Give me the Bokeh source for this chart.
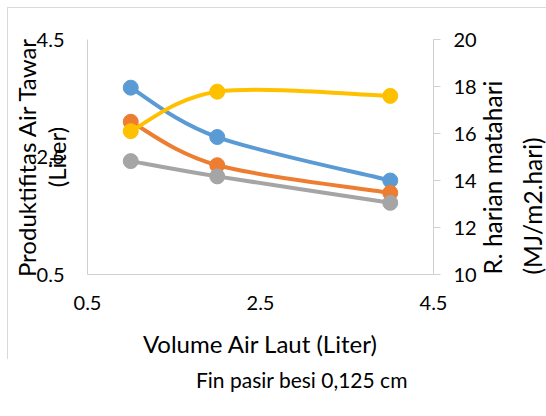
from math import pi
from bokeh.plotting import figure
from bokeh.models import (Range1d, LinearAxis, FixedTicker, Legend,
                          LegendItem, ColumnDataSource)
from bokeh.embed import file_html
from bokeh.resources import INLINE

# ---------------- data ----------------
volume = [1, 2, 4]                       # Volume Air Laut (Liter)
fin_0125 = [3.68, 2.84, 2.10]            # blue
fin_orange = [3.10, 2.36, 1.89]          # orange
fin_gray = [2.43, 2.17, 1.72]            # gray
radiasi = [16.1, 17.78, 17.6]            # yellow, right axis (MJ/m2.hari)
x_ticks = [0.5, 2.5, 4.5]
left_ticks = [0.5, 2.5, 4.5]
right_ticks = [10, 12, 14, 16, 18, 20]
legend_label = "Fin pasir besi 0,125 cm"

FONT = "Lato"
GREY = "#D0D0D0"
TXT = "#000000"
BLUE, ORANGE, GRAY, YELLOW = "#5B9BD5", "#ED7D31", "#A5A5A5", "#FFC000"


def smooth(xs, ys):
    """Catmull-Rom style bezier segments through the given points."""
    n = len(xs)
    d = dict(x0=[], y0=[], x1=[], y1=[], cx0=[], cy0=[], cx1=[], cy1=[])
    for i in range(n - 1):
        im1 = max(i - 1, 0)
        ip2 = min(i + 2, n - 1)
        d["x0"].append(xs[i]); d["y0"].append(ys[i])
        d["x1"].append(xs[i + 1]); d["y1"].append(ys[i + 1])
        d["cx0"].append(xs[i] + (xs[i + 1] - xs[im1]) / 6)
        d["cy0"].append(ys[i] + (ys[i + 1] - ys[im1]) / 6)
        d["cx1"].append(xs[i + 1] - (xs[ip2] - xs[i]) / 6)
        d["cy1"].append(ys[i + 1] - (ys[ip2] - ys[i]) / 6)
    return ColumnDataSource(d)


p = figure(frame_width=346, frame_height=235, height=390,
           min_border_left=79, min_border_right=113,
           min_border_top=31, min_border_bottom=0,
           x_range=Range1d(0.5, 4.5), y_range=Range1d(0.5, 4.5),
           output_backend="svg", toolbar_location=None)
p.styles = {"margin-left": "8px", "margin-top": "8px",
            "box-shadow": "-1px -1px 0 0 #D9D9D9"}
p.extra_y_ranges = {"rad": Range1d(10, 20)}
p.outline_line_color = None
p.xgrid.visible = False
p.ygrid.visible = False

# axes
xa = p.xaxis[0]
xa.ticker = FixedTicker(ticks=x_ticks)
ya = p.yaxis[0]
ya.ticker = FixedTicker(ticks=left_ticks)
ra = LinearAxis(y_range_name="rad", ticker=FixedTicker(ticks=right_ticks))
p.add_layout(ra, "right")

for ax in (xa, ya, ra):
    ax.axis_line_color = GREY
    ax.axis_line_width = 1
    ax.minor_tick_line_color = None
    ax.major_label_text_font = FONT
    ax.major_label_text_font_size = "20px"
    ax.major_label_text_color = TXT
    ax.axis_label_text_font = FONT
    ax.axis_label_text_font_size = "24px"
    ax.axis_label_text_font_style = "normal"
    ax.axis_label_text_color = TXT
for ax in (xa, ya):
    ax.major_tick_line_color = None
    ax.major_tick_out = 0
    ax.major_tick_in = 0
xa.major_label_standoff = 21
ya.major_label_standoff = 23
ra.major_tick_line_color = GREY
ra.major_tick_out = 7
ra.major_tick_in = 0
ra.major_label_standoff = 13

xa.axis_label = "Volume Air Laut (Liter)"
xa.axis_label_standoff = 16
ya.axis_label = "Produktifitas Air Tawar\n(Liter)"
ya.axis_label_standoff = -37
ya.axis_label_text_line_height = 1.02
ra.axis_label = "R. harian matahari\n(MJ/m2.hari)"
ra.axis_label_orientation = pi / 2
ra.axis_label_standoff = 33
ra.axis_label_text_line_height = 1.37
ra.axis_label_align = "start"
ra.axis_label_text_font_size = "24.5px"

# series
series = [(fin_0125, BLUE, "default"), (fin_orange, ORANGE, "default"),
          (fin_gray, GRAY, "default"), (radiasi, YELLOW, "rad")]
for ys, col, rng in series:
    src = smooth(volume, ys)
    p.bezier(x0="x0", y0="y0", x1="x1", y1="y1", cx0="cx0", cy0="cy0",
             cx1="cx1", cy1="cy1", source=src, line_color=col, line_width=4,
             y_range_name=rng)
    p.scatter(volume, ys, size=15, marker="circle", fill_color=col,
              line_color=col, y_range_name=rng)

# ---- legend: a small transparent figure placed under the x-axis title ----
leg = figure(width=300, height=37, min_border=0,
             x_range=Range1d(0, 1), y_range=Range1d(0, 1),
             x_axis_location=None, y_axis_location=None,
             output_backend="svg", toolbar_location=None)
leg.styles = {"position": "absolute", "left": "140px", "top": "361px"}
leg.outline_line_color = None
leg.xgrid.visible = False
leg.ygrid.visible = False
leg.background_fill_color = None
leg.border_fill_color = None
leg_line = leg.line([], [], line_color=BLUE, line_width=4)
leg_dot = leg.scatter([], [], size=15, marker="circle", fill_color=BLUE,
                      line_color=BLUE)
legend = Legend(items=[LegendItem(label=legend_label,
                                  renderers=[leg_line, leg_dot])],
                location="top_left", glyph_width=52, glyph_height=37,
                label_standoff=4, padding=0, margin=0, border_line_color=None,
                background_fill_alpha=0, label_text_font=FONT,
                label_text_font_size="21px", label_text_color=TXT)
leg.add_layout(legend)

open("out.html", "w").write(file_html([p, leg], INLINE))
